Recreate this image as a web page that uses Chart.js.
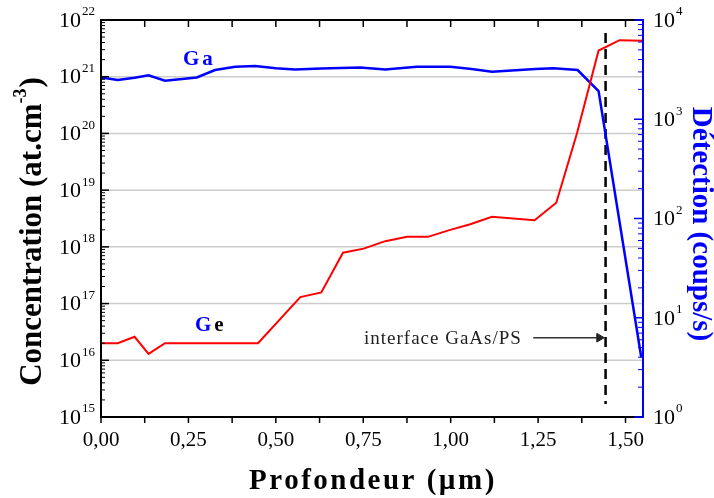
<!DOCTYPE html>
<html>
<head>
<meta charset="utf-8">
<script src="https://cdn.jsdelivr.net/npm/chart.js@4/dist/chart.umd.min.js"></script>
<style>
  html, body { margin: 0; padding: 0; background: #fff; }
</style>
</head>
<body>
<canvas id="profileChart" width="714" height="498"></canvas>
<script>
// Ge profile: depth (µm) -> concentration (at.cm-3), left axis
const geDepth = [0.00, 0.048, 0.096, 0.136, 0.183, 0.449, 0.570, 0.630, 0.692, 0.751, 0.813, 0.875, 0.935, 0.994, 1.056, 1.118, 1.240, 1.302, 1.361, 1.423, 1.483, 1.55];
const geConc = [2.0e16, 2.0e16, 2.6e16, 1.3e16, 2.0e16, 2.0e16, 1.3e17, 1.57e17, 7.9e17, 9.3e17, 1.26e18, 1.5e18, 1.5e18, 1.95e18, 2.5e18, 3.4e18, 2.95e18, 6.0e18, 1.0e20, 2.9e21, 4.4e21, 4.3e21];

// Ga signal: depth (µm) -> detection (coups/s), right axis
const gaDepth = [0.00, 0.048, 0.096, 0.136, 0.183, 0.274, 0.326, 0.384, 0.441, 0.500, 0.555, 0.630, 0.741, 0.813, 0.903, 0.999, 1.060, 1.118, 1.242, 1.294, 1.363, 1.423, 1.545];
const gaCounts = [2640, 2480, 2620, 2770, 2440, 2640, 3130, 3380, 3430, 3260, 3180, 3240, 3330, 3180, 3380, 3380, 3200, 3010, 3200, 3260, 3130, 1920, 4];

// interface marker + arrow
const interfaceDepth = 1.443;
const interfaceSpan = [5.9e21, 1.7e15];
const arrowDepth = [1.236, 1.425];
const arrowLevel = 2.5e16;

// axes
const depthMin = 0, depthMax = 1.55;
const depthTicks = [0, 0.125, 0.25, 0.375, 0.5, 0.625, 0.75, 0.875, 1.0, 1.125, 1.25, 1.375, 1.5];
const depthLabels = ['0,00', '', '0,25', '', '0,50', '', '0,75', '', '1,00', '', '1,25', '', '1,50'];
const concExponents = [15, 16, 17, 18, 19, 20, 21, 22];
const countExponents = [0, 1, 2, 3, 4];

const SERIF = '"Liberation Serif", "Times New Roman", serif';
const RED = '#ff0000';
const BLUE = '#0000ff';

function toPoints(xs, ys) {
  return xs.map((x, i) => ({ x: x, y: ys[i] }));
}

function drawPow(ctx, x, y, exp, align) {
  // "10" with raised exponent, anchored on the left or right edge
  ctx.textBaseline = 'middle';
  ctx.font = '13px ' + SERIF;
  const ew = ctx.measureText(String(exp)).width;
  ctx.font = '22px ' + SERIF;
  const bw = ctx.measureText('10').width;
  const x0 = align === 'right' ? x - ew - bw : x;
  ctx.textAlign = 'left';
  ctx.fillText('10', x0, y + 1);
  ctx.font = '13px ' + SERIF;
  ctx.fillText(String(exp), x0 + bw + 1, y - 8);
}

const axisDecor = {
  id: 'axisDecor',
  beforeDatasetsDraw(chart) {
    const { ctx, chartArea: a } = chart;
    const yc = chart.scales.yConc;
    ctx.save();
    ctx.strokeStyle = '#cccccc';
    ctx.lineWidth = 1.5;
    concExponents.slice(1, -1).forEach(n => {
      const y = yc.getPixelForValue(Math.pow(10, n));
      ctx.beginPath();
      ctx.moveTo(a.left, y);
      ctx.lineTo(a.right, y);
      ctx.stroke();
    });
    ctx.restore();
  },
  afterDraw(chart) {
    const { ctx, chartArea: a } = chart;
    const xs = chart.scales.x, yc = chart.scales.yConc, yn = chart.scales.yCounts;
    ctx.save();

    // frame
    ctx.lineWidth = 2;
    ctx.strokeStyle = '#000';
    ctx.beginPath();
    ctx.moveTo(a.right, a.top);
    ctx.lineTo(a.left, a.top);
    ctx.lineTo(a.left, a.bottom);
    ctx.lineTo(a.right, a.bottom);
    ctx.stroke();
    ctx.strokeStyle = BLUE;
    ctx.beginPath();
    ctx.moveTo(a.right, a.top - 1);
    ctx.lineTo(a.right, a.bottom + 1);
    ctx.stroke();

    // depth ticks: bottom outward, top inward
    ctx.strokeStyle = '#000';
    ctx.lineWidth = 1.5;
    depthTicks.forEach((v, i) => {
      const x = xs.getPixelForValue(v);
      ctx.beginPath();
      ctx.moveTo(x, a.bottom);
      ctx.lineTo(x, a.bottom + 6);
      ctx.moveTo(x, a.top);
      ctx.lineTo(x, a.top + 7);
      ctx.stroke();
    });
    ctx.fillStyle = '#000';
    ctx.font = '21px ' + SERIF;
    ctx.textAlign = 'center';
    ctx.textBaseline = 'middle';
    depthTicks.forEach((v, i) => {
      if (depthLabels[i]) ctx.fillText(depthLabels[i], xs.getPixelForValue(v), 440);
    });

    // left log ticks (inward)
    ctx.strokeStyle = '#000';
    concExponents.forEach((n, i) => {
      const y = yc.getPixelForValue(Math.pow(10, n));
      ctx.lineWidth = 1.5;
      ctx.beginPath(); ctx.moveTo(a.left, y); ctx.lineTo(a.left + 8, y); ctx.stroke();
      if (i < concExponents.length - 1) {
        ctx.lineWidth = 1;
        for (let k = 2; k <= 9; k++) {
          const ym = yc.getPixelForValue(k * Math.pow(10, n));
          ctx.beginPath(); ctx.moveTo(a.left, ym); ctx.lineTo(a.left + 4, ym); ctx.stroke();
        }
      }
      ctx.fillStyle = '#000';
      drawPow(ctx, a.left - 7, y, n, 'right');
    });

    // right log ticks (inward, blue)
    ctx.strokeStyle = BLUE;
    countExponents.forEach((n, i) => {
      const y = yn.getPixelForValue(Math.pow(10, n));
      ctx.lineWidth = 1.5;
      ctx.beginPath(); ctx.moveTo(a.right, y); ctx.lineTo(a.right - 9, y); ctx.stroke();
      if (i < countExponents.length - 1) {
        ctx.lineWidth = 1;
        for (let k = 2; k <= 9; k++) {
          const ym = yn.getPixelForValue(k * Math.pow(10, n));
          ctx.beginPath(); ctx.moveTo(a.right, ym); ctx.lineTo(a.right - 5, ym); ctx.stroke();
        }
      }
      ctx.fillStyle = '#000';
      drawPow(ctx, a.right + 10, y, n, 'left');
    });

    // axis titles
    ctx.fillStyle = '#000';
    ctx.textBaseline = 'middle';
    ctx.save();
    ctx.translate(33, 232);
    ctx.rotate(-Math.PI / 2);
    ctx.font = 'bold 31px ' + SERIF;
    const t1 = 'Concentration (at.cm', t2 = ')';
    const w1 = ctx.measureText(t1).width, w2 = ctx.measureText(t2).width;
    ctx.font = 'bold 18px ' + SERIF;
    const ws = ctx.measureText('-3').width;
    let tx = -(w1 + ws + w2) / 2;
    ctx.textAlign = 'left';
    ctx.font = 'bold 31px ' + SERIF;
    ctx.fillText(t1, tx, 0);
    ctx.font = 'bold 18px ' + SERIF;
    ctx.fillText('-3', tx + w1, -12);
    ctx.font = 'bold 31px ' + SERIF;
    ctx.fillText(t2, tx + w1 + ws + 1, 0);
    ctx.restore();

    ctx.save();
    ctx.translate(700, 224);
    ctx.rotate(Math.PI / 2);
    ctx.fillStyle = BLUE;
    ctx.font = 'bold 29px ' + SERIF;
    ctx.textAlign = 'center';
    ctx.fillText('Détection (coups/s)', 0, 0);
    ctx.restore();

    ctx.font = 'bold 29px ' + SERIF;
    ctx.letterSpacing = '2.5px';
    ctx.textAlign = 'center';
    ctx.fillText('Profondeur (µm)', 373, 482);

    // curve labels
    ctx.textAlign = 'left';
    ctx.textBaseline = 'alphabetic';
    ctx.font = 'bold 21px ' + SERIF;
    ctx.letterSpacing = '3px';
    ctx.fillStyle = BLUE;
    ctx.fillText('Ga', 183, 65);
    const gw = ctx.measureText('G').width;
    ctx.fillText('G', 195, 331);
    ctx.fillStyle = '#000';
    ctx.fillText('e', 195 + gw, 331);

    ctx.font = '19px ' + SERIF;
    ctx.letterSpacing = '1px';
    ctx.fillStyle = '#222';
    ctx.fillText('interface GaAs/PS', 364, 344);
    ctx.restore();
  }
};

const ctx = document.getElementById('profileChart').getContext('2d');
new Chart(ctx, {
  type: 'line',
  data: {
    datasets: [
      {
        label: 'Ge',
        data: toPoints(geDepth, geConc),
        yAxisID: 'yConc',
        borderColor: RED,
        borderWidth: 2,
        pointRadius: 0,
        tension: 0
      },
      {
        label: 'Ga',
        data: toPoints(gaDepth, gaCounts),
        yAxisID: 'yCounts',
        borderColor: BLUE,
        borderWidth: 2.5,
        pointRadius: 0,
        tension: 0
      },
      {
        label: 'interface',
        data: interfaceSpan.map(v => ({ x: interfaceDepth, y: v })),
        yAxisID: 'yConc',
        borderColor: '#000',
        borderWidth: 2.5,
        borderDash: [10, 6],
        pointRadius: 0
      },
      {
        label: 'arrow',
        data: arrowDepth.map(x => ({ x: x, y: arrowLevel })),
        yAxisID: 'yConc',
        borderColor: '#333',
        borderWidth: 1.5,
        pointRadius: [0, 5],
        pointStyle: 'triangle',
        rotation: 90,
        pointBackgroundColor: '#222',
        pointBorderColor: '#222',
        pointBorderWidth: 1
      }
    ]
  },
  options: {
    responsive: false,
    animation: false,
    layout: { padding: { left: 101, right: 71, top: 20, bottom: 81 } },
    plugins: { legend: { display: false }, tooltip: { enabled: false } },
    scales: {
      x: { type: 'linear', min: depthMin, max: depthMax, display: false },
      yConc: { type: 'logarithmic', position: 'left', min: 1e15, max: 1e22, display: false },
      yCounts: { type: 'logarithmic', position: 'right', min: 1, max: 1e4, display: false }
    }
  },
  plugins: [axisDecor]
});
</script>
</body>
</html>
